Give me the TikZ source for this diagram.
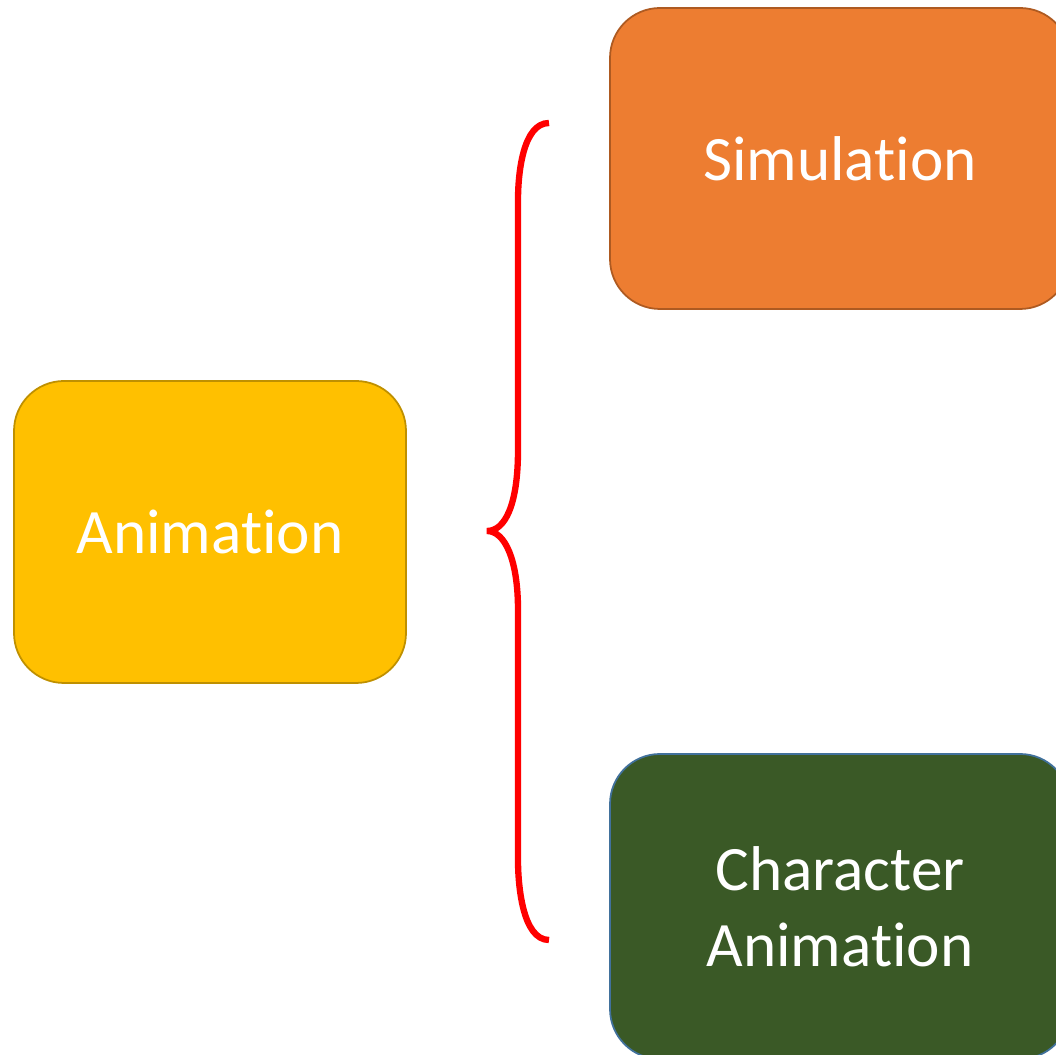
\documentclass[tikz,border=0pt]{standalone}
\usepackage{fontspec}
\setmainfont{Carlito}[Ligatures={NoCommon}]
\usetikzlibrary{positioning,calc}

\definecolor{simorange}{HTML}{ED7D31}
\definecolor{simedge}{HTML}{AE5A21}
\definecolor{animyellow}{HTML}{FFC000}
\definecolor{animedge}{HTML}{BF9000}
\definecolor{chargreen}{HTML}{3A5926}
\definecolor{charedge}{HTML}{41719C}

\begin{document}
\begin{tikzpicture}[
  topic/.style={draw, line width=1pt, rounded corners=1cm, align=center, text=white, font=\fontsize{36}{43}\selectfont},
  brace/.style={draw=red, line width=3.6pt}
]

\clip (0,0) rectangle (21.12,21.1);

\node[topic, fill=animyellow, draw=animedge, minimum width=7.84cm, minimum height=6.04cm] (anim) at (4.2,10.46) {Animation};
\node[topic, fill=simorange, draw=simedge, minimum width=9.2cm, minimum height=6.02cm] (sim) at (16.8,17.93) {Simulation};
\node[topic, fill=chargreen, draw=charedge, minimum width=9.2cm, minimum height=6.1cm] (char) at (16.8,2.97) {Character\\Animation};

% curly brace between the topics
\coordinate (bracetop) at (10.98,18.64);
\coordinate (bracetip) at (9.74,10.48);
\coordinate (bracebot) at (10.98,2.30);
\draw[brace] (bracetop) .. controls (10.45,18.64) and (10.36,17.6) .. (10.36,17.1)
  -- (10.36,12.1) .. controls (10.36,11.0) and (10.1,10.48) .. (bracetip)
  .. controls (10.1,10.48) and (10.36,9.9) .. (10.36,8.9)
  -- (10.36,3.9) .. controls (10.36,3.4) and (10.45,2.30) .. (bracebot);

\end{tikzpicture}
\end{document}
